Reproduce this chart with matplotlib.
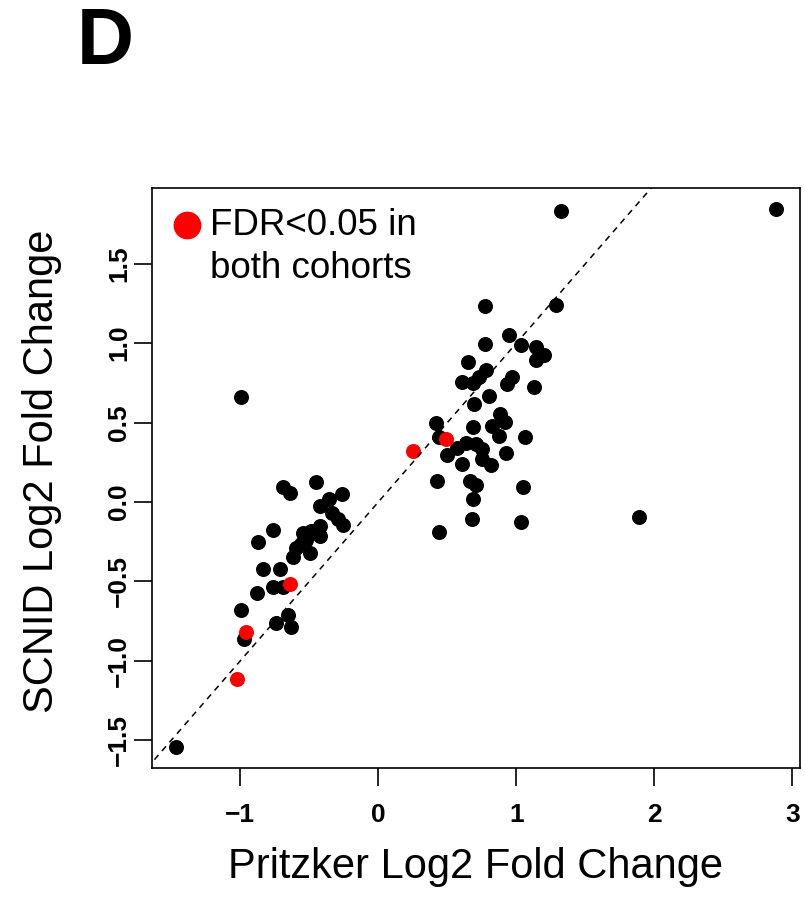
import matplotlib
matplotlib.use("Agg")
import matplotlib.pyplot as plt

plt.rcParams['font.family'] = ['Liberation Sans', 'DejaVu Sans']

# Pritzker (x) vs SCNID (y) log2 fold changes, black = not significant in both
black_x = [-0.691, -0.643, -0.450, -0.354, -0.265, -0.421, -0.334, -0.294, -0.253,
           -0.763, -0.871, -0.547, -0.486, -0.421, -0.421, -0.522, -0.558, -0.594,
           -0.619, -0.498, -0.835, -0.715, -0.763, -0.691, -0.879, -0.996, -0.655,
           -0.739, -0.630, -0.975, -1.466, -0.996,
           0.770, 1.287, 0.946, 0.773, 1.037, 1.143, 1.199, 1.143, 0.652, 0.782,
           0.729, 0.604, 0.686, 0.965, 0.934, 1.126, 0.801, 0.693, 0.878, 0.917,
           0.825, 0.686, 0.416, 0.440, 0.874, 1.061, 0.633, 0.705, 0.573, 0.749,
           0.500, 0.609, 0.753, 0.814, 0.922, 0.428, 0.662, 0.705, 1.047, 0.686,
           0.676, 1.037, 0.440, 1.321, 2.881, 1.885]
black_y = [0.093, 0.057, 0.127, 0.021, 0.051, -0.027, -0.070, -0.106, -0.144,
           -0.179, -0.253, -0.196, -0.182, -0.154, -0.217, -0.239, -0.266, -0.291,
           -0.344, -0.323, -0.422, -0.422, -0.534, -0.534, -0.576, -0.677, -0.713,
           -0.759, -0.787, -0.861, -1.540, 0.658,
           1.232, 1.238, 1.049, 0.996, 0.989, 0.975, 0.926, 0.894, 0.884, 0.831,
           0.789, 0.758, 0.747, 0.789, 0.743, 0.722, 0.669, 0.620, 0.557, 0.504,
           0.479, 0.473, 0.500, 0.409, 0.416, 0.409, 0.373, 0.367, 0.342, 0.331,
           0.293, 0.240, 0.268, 0.236, 0.310, 0.131, 0.135, 0.110, 0.095, 0.021,
           -0.106, -0.129, -0.190, 1.835, 1.842, -0.095]

# FDR<0.05 in both cohorts
red_x = [-0.643, -0.962, -1.027, 0.489, 0.248]
red_y = [-0.515, -0.818, -1.114, 0.399, 0.321]

x_ticks = [-1, 0, 1, 2, 3]
y_ticks = [-1.5, -1.0, -0.5, 0.0, 0.5, 1.0, 1.5]

fig = plt.figure(figsize=(8.05, 8.97), dpi=100)
ax = fig.add_axes([0.1888, 0.1438, 0.805, 0.6466])

ax.plot(black_x, black_y, 'o', color='black', markersize=10.8, markeredgewidth=0)
ax.plot(red_x, red_y, 'o', color='#ff0000', markersize=10.8, markeredgewidth=0)
ax.plot([-3, 4], [-3, 4], linestyle=(0, (4, 3.5)), color='black', linewidth=1.1)

ax.set_xlim(-1.64, 3.055)
ax.set_ylim(-1.675, 1.977)
ax.set_xticks(x_ticks)
ax.set_xticklabels([str(t).replace('-', '\u2212') for t in x_ticks],
                   fontsize=19, fontweight='bold')
ax.set_yticks(y_ticks)
ax.set_yticklabels([f"{t:.1f}".replace('-', '\u2212') for t in y_ticks],
                   fontsize=19, fontweight='bold', rotation=90, va='center')
ax.tick_params(direction='out', length=13, width=1.2)
ax.tick_params(axis='x', pad=12)
ax.tick_params(axis='y', pad=2)
for s in ax.spines.values():
    s.set_linewidth(1.2)

ax.set_xlabel('Pritzker Log2 Fold Change', fontsize=30)
ax.set_ylabel('SCNID Log2 Fold Change', fontsize=30)
ax.xaxis.set_label_coords(0.5, -0.136)
ax.yaxis.set_label_coords(-0.139, 0.512)

ax.plot([0.0535], [0.936], 'o', color='#ff0000', markersize=20, markeredgewidth=0,
        transform=ax.transAxes, clip_on=False)
ax.text(0.0895, 0.936, 'FDR<0.05 in', transform=ax.transAxes, fontsize=26.5, va='center')
ax.text(0.0895, 0.862, 'both cohorts', transform=ax.transAxes, fontsize=26.5, va='center')

fig.text(0.0957, 0.951, 'D', fontsize=57, fontweight='bold', va='center')

fig.savefig('out.png', dpi=100)
